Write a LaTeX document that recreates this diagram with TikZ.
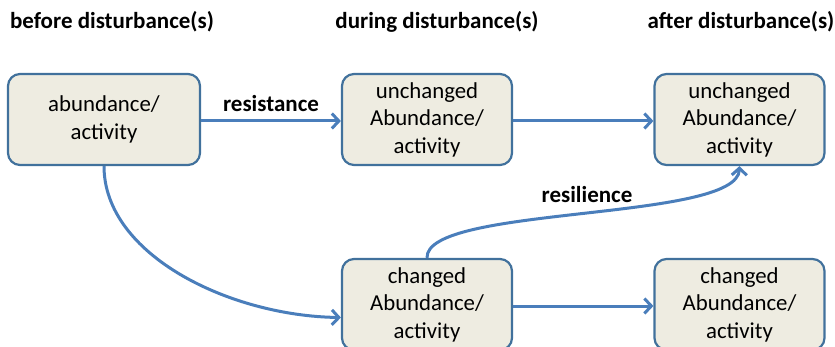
\documentclass[tikz,border=0pt]{standalone}
\usepackage{fontspec}
\setmainfont{Carlito}
\usetikzlibrary{arrows.meta}
\definecolor{boxfill}{HTML}{EEECE1}
\definecolor{boxline}{HTML}{41719C}
\definecolor{arrowblue}{HTML}{4A7EBB}
\tikzset{
  state/.style={draw=boxline,fill=boxfill,line width=2.2pt,rounded corners=12pt,
    minimum width=170pt,minimum height=91pt,inner sep=0pt,align=center,
    font=\fontsize{22.8}{27.5}\selectfont},
  phase/.style={font=\fontsize{23}{27}\selectfont\bfseries},
  flow/.style={->,draw=arrowblue,line width=3pt}
}
\begin{document}
\begin{tikzpicture}[x=1pt,y=-1pt,>={Straight Barb[length=7pt,width=15pt]}]
\useasboundingbox (0,0) rectangle (835,347);

\node[phase](hbefore) at (112,22) {before disturbance(s)};
\node[phase](hduring) at (437,22) {during disturbance(s)};
\node[phase](hafter) at (741,22) {after disturbance(s)};

\node[state,minimum width=192pt](start) at (104,119.5) {abundance/\\activity};
\node[state](dur1) at (427,119.5) {unchanged\\Abundance/\\activity};
\node[state](aft1) at (739.5,119.5) {unchanged\\Abundance/\\activity};
\node[state](dur2) at (427,304.5) {changed\\Abundance/\\activity};
\node[state](aft2) at (739.5,304.5) {changed\\Abundance/\\activity};

\draw[flow] ([yshift=-1.5pt]start.east) -- node[above=4pt,phase]{resistance} ([yshift=-1.5pt]dur1.west);
\draw[flow] ([yshift=-1.5pt]dur1.east) -- ([yshift=-1.5pt]aft1.west);
\draw[flow] ([yshift=-1.5pt]dur2.east) -- ([yshift=-1.5pt]aft2.west);
\draw[flow] (start.south) .. controls (104,255) and (230,316) .. ([yshift=-13pt]dur2.west);
\draw[flow] (dur2.north) .. controls (425,205) and (738,222) .. (aft1.south);
\node[phase](lres) at (587,195) {resilience};
\end{tikzpicture}
\end{document}
